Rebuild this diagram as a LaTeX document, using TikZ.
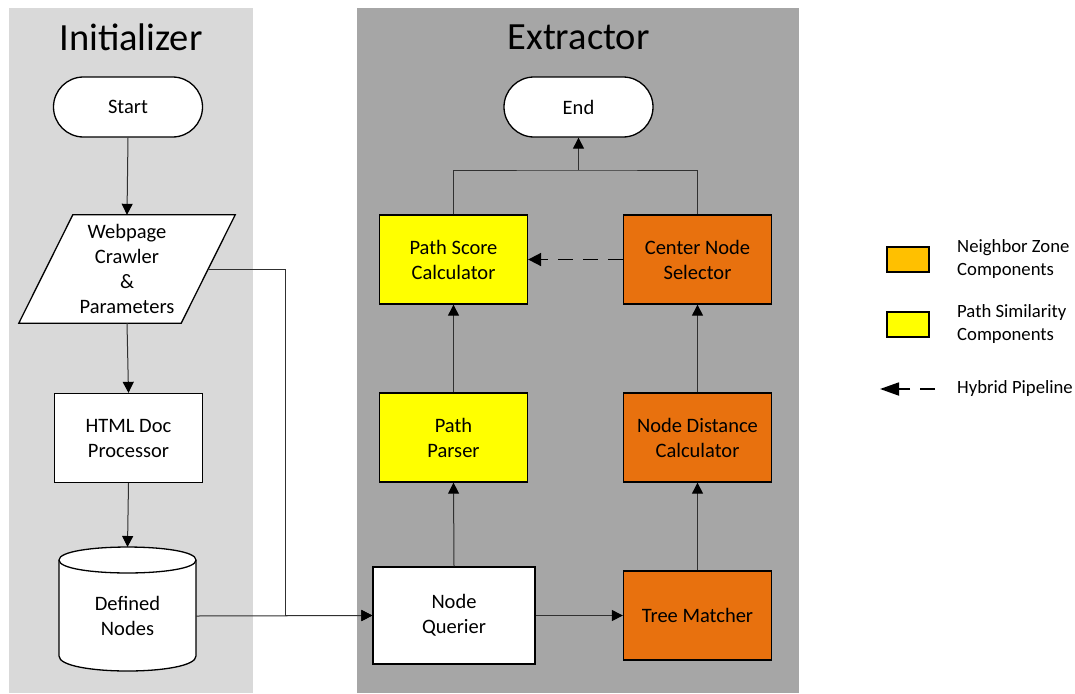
\documentclass[tikz,border=0pt]{standalone}
\usepackage{fontspec}
\setmainfont{Carlito}
\usetikzlibrary{arrows.meta,calc}

\definecolor{panelLight}{HTML}{D9D9D9}
\definecolor{panelDark}{HTML}{A6A6A6}
\definecolor{pathYellow}{HTML}{FFFF00}
\definecolor{zoneOrange}{HTML}{E8710E}
\definecolor{legendAmber}{HTML}{FFC000}
\definecolor{wireGray}{HTML}{303030}

\tikzset{
  boxtext/.style={font=\fontsize{20.5}{25}\selectfont, align=center, text=black},
  terminal/.style={boxtext, draw=black, line width=1.3pt, fill=white,
    rectangle, rounded corners=30pt, minimum width=149pt, minimum height=60pt},
  procbox/.style={boxtext, draw=black, line width=1.3pt, rectangle,
    minimum width=148pt, minimum height=89pt},
  plainlabel/.style={boxtext, inner sep=0pt},
  outline/.style={draw=black, line width=1.3pt, fill=white},
  wire/.style={draw=wireGray, line width=1pt},
  flow/.style={wire, -{Triangle[length=11pt,width=11pt,color=black]}},
  hybrid/.style={draw=black, line width=1.8pt, dash pattern=on 15pt off 10pt,
    -{Triangle[length=13pt,width=13pt]}},
  title/.style={font=\fontsize{38.5}{42}\selectfont, text=black},
  legbox/.style={draw=black, line width=1.3pt, minimum width=42pt, minimum height=25pt},
  legtext/.style={font=\fontsize{18.7}{23}\selectfont, align=left, anchor=west, inner sep=0pt},
}

\begin{document}
\begin{tikzpicture}[x=1pt, y=-1pt]
  \useasboundingbox (0,0) rectangle (1075,693);

  % stage panels
  \fill[panelLight] (9,8) rectangle (253,693);
  \fill[panelDark] (357,8) rectangle (799,693);
  \node[title] (tinit) at (131,37) {Initializer};
  \node[title] (textr) at (578.5,37) {Extractor};

  % initializer column
  \node[terminal] (start) at (128,107) {Start};

  % crawler input: a parallelogram drawn around a bare label box
  \coordinate (webc) at (127,269);
  \node[minimum width=108pt, minimum height=108pt, inner sep=0pt] (web) at (webc) {};
  \path[outline] (web.north west) -- ($(web.north east)+(54,0)$) -- (web.south east)
    -- ($(web.south west)+(-54,0)$) -- cycle;
  \node[plainlabel] (webtext) at (webc) {Webpage\\Crawler\\\&\\Parameters};
  \coordinate (webR) at ($(web.east)+(27,0)$);

  \node[procbox, fill=white] (html) at (128.5,438) {HTML Doc\\Processor};

  % stored nodes drum
  \coordinate (dnc) at (127.5,616);
  \path[outline] ($(dnc)+(-68.5,-56)$)
      .. controls ($(dnc)+(-68.5,-73.3)$) and ($(dnc)+(68.5,-73.3)$) .. ($(dnc)+(68.5,-56)$)
      -- ($(dnc)+(68.5,40)$)
      .. controls ($(dnc)+(68.5,60)$) and ($(dnc)+(-68.5,60)$) .. ($(dnc)+(-68.5,40)$)
      -- cycle;
  \draw[black, line width=1.3pt] ($(dnc)+(68.5,-56)$)
      .. controls ($(dnc)+(68.5,-38.7)$) and ($(dnc)+(-68.5,-38.7)$) .. ($(dnc)+(-68.5,-56)$);
  \node[plainlabel, minimum width=137pt, minimum height=20pt] (dn) at (dnc) {Defined\\Nodes};
  \coordinate (dntop) at ($(dnc)+(0,-69)$);

  % extractor nodes
  \node[terminal] (end) at (578.5,107) {End};
  \node[procbox, fill=pathYellow] (psc) at (453.5,259.5) {Path Score\\Calculator};
  \node[procbox, fill=zoneOrange] (csn) at (697.5,259.5) {Center Node\\Selector};
  \node[procbox, fill=pathYellow] (pp) at (453.5,437.5) {Path\\Parser};
  \node[procbox, fill=zoneOrange] (ndc) at (697.5,437.5) {Node Distance\\Calculator};
  \node[procbox, fill=white, minimum width=162pt, minimum height=97pt] (nq) at (454,615.5) {Node\\Querier};
  \node[procbox, fill=zoneOrange] (tm) at (697.5,615.5) {Tree Matcher};

  % connectors
  \draw[flow] (start.south) -- (web.north);
  \draw[flow] (web.south) -- (html.north);
  \draw[flow] (html.south) -- (dntop);
  \coordinate (webbend) at (285,269);
  \draw[flow] (webR) -- (webbend) |- (nq.west);
  \draw[flow] (dn.east) -- (nq.west);
  \draw[flow] (nq.east) -- (tm.west);
  \draw[flow] (nq.north) -- (pp.south);
  \draw[flow] (pp.north) -- (psc.south);
  \draw[flow] (tm.north) -- (ndc.south);
  \draw[flow] (ndc.north) -- (csn.south);
  \coordinate (join) at (end.south |- 0,170);
  \draw[wire] (psc.north) |- (join) -| (csn.north);
  \draw[flow] (join) -- (end.south);
  \draw[hybrid] (csn.west) -- (psc.east);

  % legend
  \node[legbox, fill=legendAmber] (lgzone) at (908,259.5) {};
  \node[legtext] (lgzonet) at (957,259.5) {Neighbor Zone\\Components};
  \node[legbox, fill=pathYellow] (lgpath) at (908,324.5) {};
  \node[legtext] (lgpatht) at (957,324.5) {Path Similarity\\Components};
  \coordinate (lgaR) at (935,389);
  \coordinate (lgaL) at (880,389);
  \draw[draw=black, line width=1.8pt, dash pattern=on 15pt off 10pt,
    -{Triangle[length=19pt,width=13pt]}] (lgaR) -- (lgaL);
  \node[legtext] (lgarrowt) at (957,389) {Hybrid Pipeline};
\end{tikzpicture}
\end{document}
